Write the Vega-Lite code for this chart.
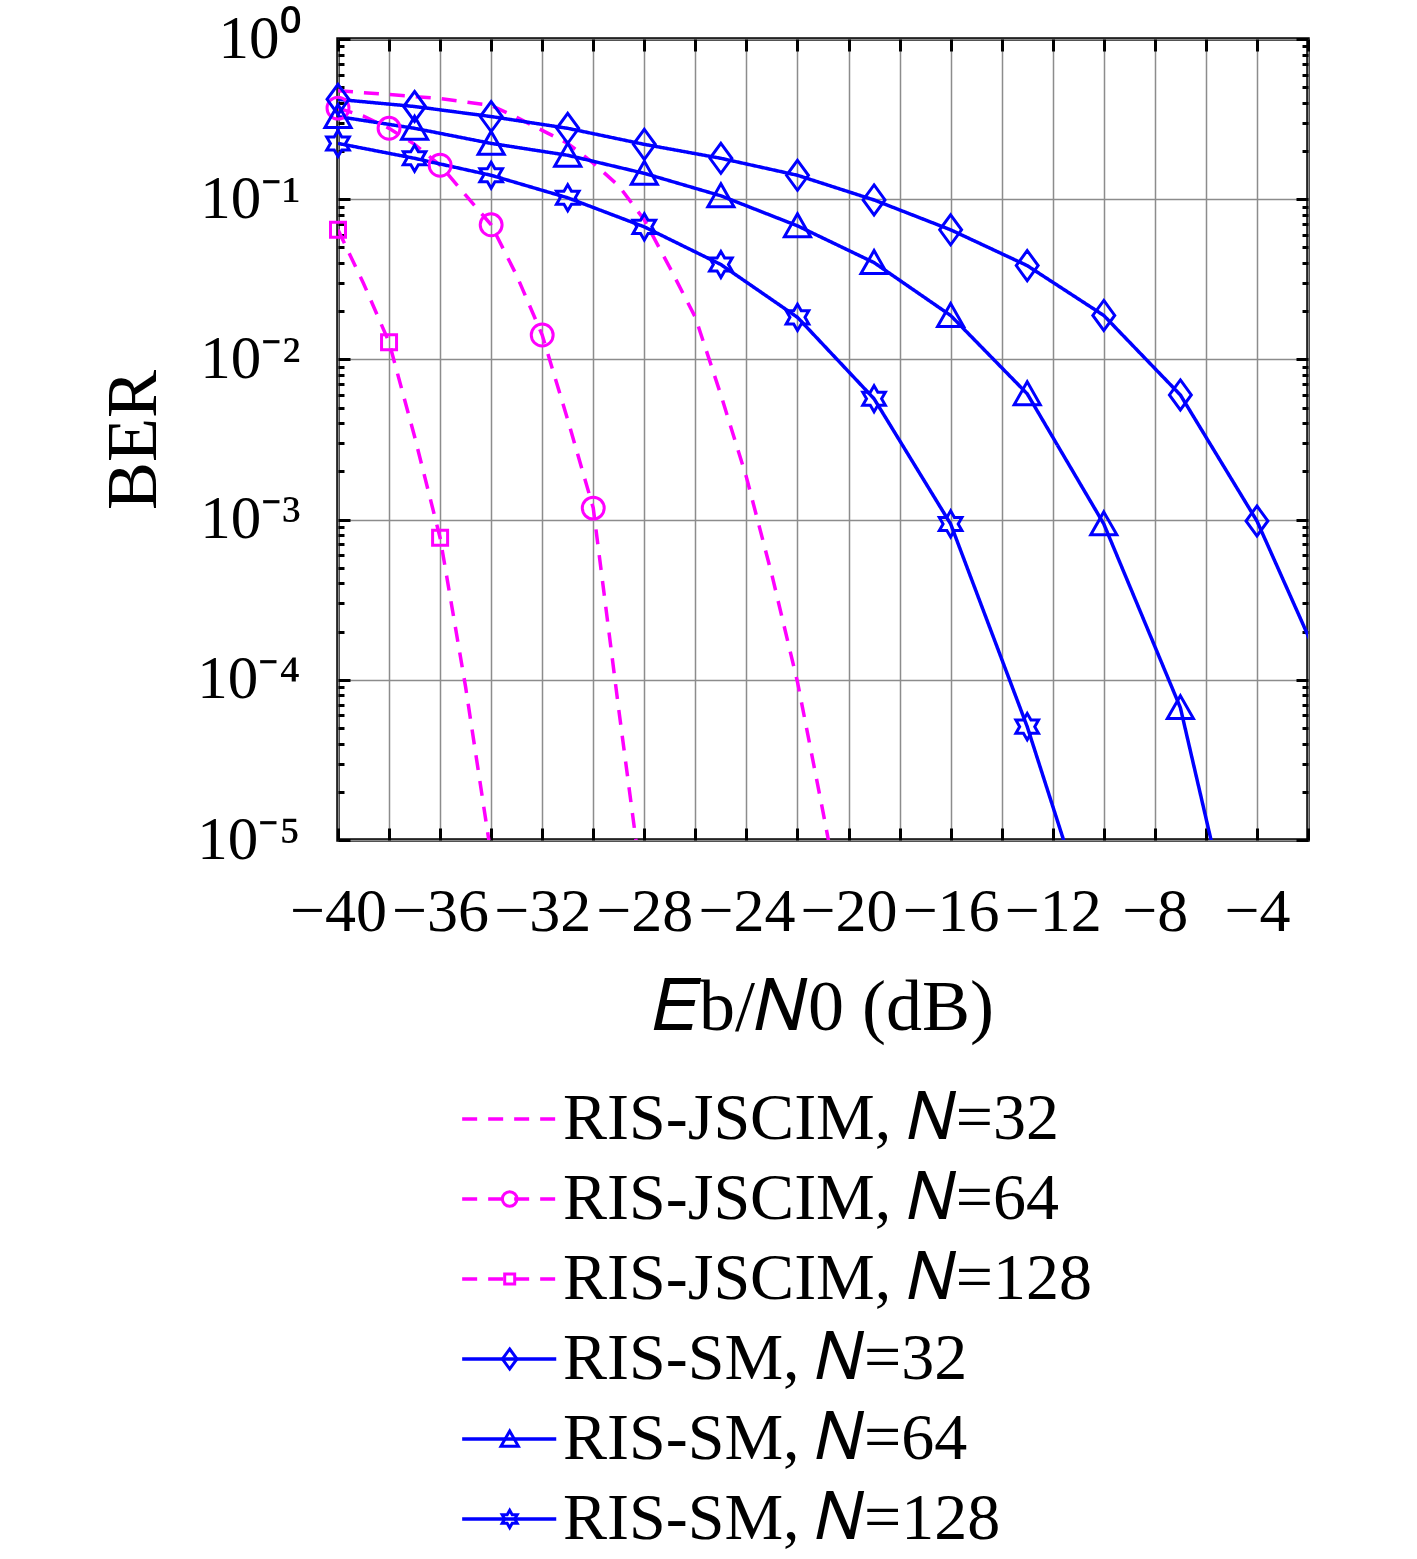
{
  "$schema": "https://vega.github.io/schema/vega-lite/v6.json",
  "background": "white",
  "padding": {"left": 95, "top": 6, "right": 0, "bottom": 0},
  "config": {
    "font": "Liberation Serif",
    "axis": {
      "labelFont": "Liberation Serif",
      "titleFont": "Liberation Serif",
      "labelColor": "black",
      "titleColor": "black",
      "titleFontWeight": "normal",
      "domain": false,
      "tickColor": "black",
      "tickWidth": 3,
      "gridColor": "#8c8c8c",
      "gridWidth": 1.5,
      "gridOpacity": 1,
      "labelOverlap": false,
      "labelFlush": false,
      "labelBound": false
    },
    "view": {"stroke": "black", "strokeWidth": 3.5}
  },
  "datasets": {
    "curves": [
      {"series": "RIS-JSCIM, 𝑁=32", "snr": -40, "ber": 0.476},
      {"series": "RIS-JSCIM, 𝑁=32", "snr": -38, "ber": 0.45},
      {"series": "RIS-JSCIM, 𝑁=32", "snr": -36, "ber": 0.425},
      {"series": "RIS-JSCIM, 𝑁=32", "snr": -34, "ber": 0.385},
      {"series": "RIS-JSCIM, 𝑁=32", "snr": -33, "ber": 0.324},
      {"series": "RIS-JSCIM, 𝑁=32", "snr": -32, "ber": 0.269},
      {"series": "RIS-JSCIM, 𝑁=32", "snr": -31, "ber": 0.223},
      {"series": "RIS-JSCIM, 𝑁=32", "snr": -30, "ber": 0.168},
      {"series": "RIS-JSCIM, 𝑁=32", "snr": -29, "ber": 0.121},
      {"series": "RIS-JSCIM, 𝑁=32", "snr": -28, "ber": 0.0743},
      {"series": "RIS-JSCIM, 𝑁=32", "snr": -27, "ber": 0.0374},
      {"series": "RIS-JSCIM, 𝑁=32", "snr": -26, "ber": 0.0183},
      {"series": "RIS-JSCIM, 𝑁=32", "snr": -25, "ber": 0.0060},
      {"series": "RIS-JSCIM, 𝑁=32", "snr": -24, "ber": 0.00184},
      {"series": "RIS-JSCIM, 𝑁=32", "snr": -23, "ber": 0.00045},
      {"series": "RIS-JSCIM, 𝑁=32", "snr": -22, "ber": 0.000097},
      {"series": "RIS-JSCIM, 𝑁=32", "snr": -21, "ber": 0.000015},
      {"series": "RIS-JSCIM, 𝑁=32", "snr": -20, "ber": 0.0000022},
      {"series": "RIS-JSCIM, 𝑁=64", "snr": -40, "ber": 0.37},
      {"series": "RIS-JSCIM, 𝑁=64", "snr": -39, "ber": 0.33},
      {"series": "RIS-JSCIM, 𝑁=64", "snr": -38, "ber": 0.277},
      {"series": "RIS-JSCIM, 𝑁=64", "snr": -37, "ber": 0.22},
      {"series": "RIS-JSCIM, 𝑁=64", "snr": -36, "ber": 0.163},
      {"series": "RIS-JSCIM, 𝑁=64", "snr": -35, "ber": 0.106},
      {"series": "RIS-JSCIM, 𝑁=64", "snr": -34, "ber": 0.0692},
      {"series": "RIS-JSCIM, 𝑁=64", "snr": -33, "ber": 0.0334},
      {"series": "RIS-JSCIM, 𝑁=64", "snr": -32, "ber": 0.0142},
      {"series": "RIS-JSCIM, 𝑁=64", "snr": -31, "ber": 0.0042},
      {"series": "RIS-JSCIM, 𝑁=64", "snr": -30, "ber": 0.00118},
      {"series": "RIS-JSCIM, 𝑁=64", "snr": -29, "ber": 0.000065},
      {"series": "RIS-JSCIM, 𝑁=64", "snr": -28, "ber": 0.000004},
      {"series": "RIS-JSCIM, 𝑁=128", "snr": -40, "ber": 0.0644},
      {"series": "RIS-JSCIM, 𝑁=128", "snr": -39, "ber": 0.0298},
      {"series": "RIS-JSCIM, 𝑁=128", "snr": -38, "ber": 0.0128},
      {"series": "RIS-JSCIM, 𝑁=128", "snr": -37, "ber": 0.0033},
      {"series": "RIS-JSCIM, 𝑁=128", "snr": -36, "ber": 0.00077},
      {"series": "RIS-JSCIM, 𝑁=128", "snr": -35, "ber": 0.00009},
      {"series": "RIS-JSCIM, 𝑁=128", "snr": -34, "ber": 0.000008},
      {"series": "RIS-SM, 𝑁=32", "snr": -40, "ber": 0.42},
      {"series": "RIS-SM, 𝑁=32", "snr": -37, "ber": 0.379},
      {"series": "RIS-SM, 𝑁=32", "snr": -34, "ber": 0.328},
      {"series": "RIS-SM, 𝑁=32", "snr": -31, "ber": 0.277},
      {"series": "RIS-SM, 𝑁=32", "snr": -28, "ber": 0.22},
      {"series": "RIS-SM, 𝑁=32", "snr": -25, "ber": 0.18},
      {"series": "RIS-SM, 𝑁=32", "snr": -22, "ber": 0.141},
      {"series": "RIS-SM, 𝑁=32", "snr": -19, "ber": 0.0989},
      {"series": "RIS-SM, 𝑁=32", "snr": -16, "ber": 0.0644},
      {"series": "RIS-SM, 𝑁=32", "snr": -13, "ber": 0.0385},
      {"series": "RIS-SM, 𝑁=32", "snr": -10, "ber": 0.0188},
      {"series": "RIS-SM, 𝑁=32", "snr": -7, "ber": 0.006},
      {"series": "RIS-SM, 𝑁=32", "snr": -4, "ber": 0.00098},
      {"series": "RIS-SM, 𝑁=32", "snr": -1, "ber": 0.000083},
      {"series": "RIS-SM, 𝑁=64", "snr": -40, "ber": 0.328},
      {"series": "RIS-SM, 𝑁=64", "snr": -37, "ber": 0.277},
      {"series": "RIS-SM, 𝑁=64", "snr": -34, "ber": 0.223},
      {"series": "RIS-SM, 𝑁=64", "snr": -31, "ber": 0.188},
      {"series": "RIS-SM, 𝑁=64", "snr": -28, "ber": 0.145},
      {"series": "RIS-SM, 𝑁=64", "snr": -25, "ber": 0.105},
      {"series": "RIS-SM, 𝑁=64", "snr": -22, "ber": 0.0682},
      {"series": "RIS-SM, 𝑁=64", "snr": -19, "ber": 0.0402},
      {"series": "RIS-SM, 𝑁=64", "snr": -16, "ber": 0.0188},
      {"series": "RIS-SM, 𝑁=64", "snr": -13, "ber": 0.0061},
      {"series": "RIS-SM, 𝑁=64", "snr": -10, "ber": 0.00094},
      {"series": "RIS-SM, 𝑁=64", "snr": -7, "ber": 0.000067},
      {"series": "RIS-SM, 𝑁=64", "snr": -4, "ber": 0.00000058},
      {"series": "RIS-SM, 𝑁=128", "snr": -40, "ber": 0.223},
      {"series": "RIS-SM, 𝑁=128", "snr": -37, "ber": 0.18},
      {"series": "RIS-SM, 𝑁=128", "snr": -34, "ber": 0.141},
      {"series": "RIS-SM, 𝑁=128", "snr": -31, "ber": 0.102},
      {"series": "RIS-SM, 𝑁=128", "snr": -28, "ber": 0.0672},
      {"series": "RIS-SM, 𝑁=128", "snr": -25, "ber": 0.0391},
      {"series": "RIS-SM, 𝑁=128", "snr": -22, "ber": 0.0183},
      {"series": "RIS-SM, 𝑁=128", "snr": -19, "ber": 0.00568},
      {"series": "RIS-SM, 𝑁=128", "snr": -16, "ber": 0.00094},
      {"series": "RIS-SM, 𝑁=128", "snr": -13, "ber": 0.000051},
      {"series": "RIS-SM, 𝑁=128", "snr": -10, "ber": 0.00000165}
    ],
    "entries": [
      {"series": "RIS-JSCIM, 𝑁=32"},
      {"series": "RIS-JSCIM, 𝑁=64"},
      {"series": "RIS-JSCIM, 𝑁=128"},
      {"series": "RIS-SM, 𝑁=32"},
      {"series": "RIS-SM, 𝑁=64"},
      {"series": "RIS-SM, 𝑁=128"}
    ]
  },
  "bounds": "flush",
  "spacing": 239,
  "vconcat": [
    {
      "width": 970,
      "height": 801,
      "data": {"name": "curves"},
      "layer": [
        {
          "mark": {"type": "line", "clip": true, "strokeWidth": 3.5},
          "encoding": {
            "x": {
              "field": "snr",
              "type": "quantitative",
              "scale": {"domain": [-40, -2], "nice": false, "zero": false},
              "axis": {
                "orient": "bottom",
                "values": [-40, -38, -36, -34, -32, -30, -28, -26, -24, -22, -20, -18, -16, -14, -12, -10, -8, -6, -4, -2],
                "labelExpr": "datum.value % 4 === 0 ? datum.label : ''",
                "grid": true,
                "tickSize": -12,
                "labelFontSize": 62,
                "labelPadding": 53,
                "title": "𝐸b/𝑁0 (dB)",
                "titleFontSize": 72,
                "titlePadding": 30
              }
            },
            "y": {
              "field": "ber",
              "type": "quantitative",
              "scale": {"type": "log", "domain": [0.00001, 1], "nice": false},
              "axis": {
                "orient": "left",
                "values": [0.00001, 0.00002, 0.00003, 0.00004, 0.00005, 0.00006, 0.00007, 0.00008, 0.00009, 0.0001, 0.0002, 0.0003, 0.0004, 0.0005, 0.0006, 0.0007, 0.0008, 0.0009, 0.001, 0.002, 0.003, 0.004, 0.005, 0.006, 0.007, 0.008, 0.009, 0.01, 0.02, 0.03, 0.04, 0.05, 0.06, 0.07, 0.08, 0.09, 0.1, 0.2, 0.3, 0.4, 0.5, 0.6, 0.7, 0.8, 0.9, 1],
                "labelExpr": "abs(log(datum.value) / LN10 - round(log(datum.value) / LN10)) > 0.001 ? '' : datum.value > 0.5 ? '10⁰' : datum.value > 0.05 ? '10⁻¹' : datum.value > 0.005 ? '10⁻²' : datum.value > 0.0005 ? '10⁻³' : datum.value > 0.00005 ? '10⁻⁴' : '10⁻⁵'",
                "grid": true,
                "gridOpacity": {"condition": {"test": "abs(log(datum.value) / LN10 - round(log(datum.value) / LN10)) < 0.001", "value": 1}, "value": 0},
                "tickSize": {"condition": {"test": "abs(log(datum.value) / LN10 - round(log(datum.value) / LN10)) < 0.001", "value": -12}, "value": -6},
                "labelFontSize": 61,
                "labelPadding": 50,
                "title": "BER",
                "titleFontSize": 72,
                "titlePadding": 26
              }
            },
            "color": {
              "field": "series",
              "type": "nominal",
              "scale": {
                "domain": ["RIS-JSCIM, 𝑁=32", "RIS-JSCIM, 𝑁=64", "RIS-JSCIM, 𝑁=128", "RIS-SM, 𝑁=32", "RIS-SM, 𝑁=64", "RIS-SM, 𝑁=128"],
                "range": ["#ff00ff", "#ff00ff", "#ff00ff", "#0000ff", "#0000ff", "#0000ff"]
              },
              "legend": null
            },
            "strokeDash": {
              "field": "series",
              "type": "nominal",
              "scale": {
                "domain": ["RIS-JSCIM, 𝑁=32", "RIS-JSCIM, 𝑁=64", "RIS-JSCIM, 𝑁=128", "RIS-SM, 𝑁=32", "RIS-SM, 𝑁=64", "RIS-SM, 𝑁=128"],
                "range": [[15, 11], [15, 11], [15, 11], [1, 0], [1, 0], [1, 0]]
              },
              "legend": null
            }
          }
        },
        {
          "transform": [
            {"filter": "datum.ber >= 0.00001 && datum.snr <= -2 && (indexof(datum.series, 'RIS-SM') === 0 || (indexof(datum.series, '=32') < 0 && datum.snr % 2 === 0))"}
          ],
          "mark": {"type": "point", "filled": false, "size": 900, "strokeWidth": 3, "opacity": 1},
          "encoding": {
            "x": {
              "field": "snr",
              "type": "quantitative",
              "axis": {
                "orient": "top",
                "values": [-40, -38, -36, -34, -32, -30, -28, -26, -24, -22, -20, -18, -16, -14, -12, -10, -8, -6, -4, -2],
                "labels": false,
                "grid": false,
                "tickSize": -12,
                "title": null
              }
            },
            "y": {
              "field": "ber",
              "type": "quantitative",
              "axis": {
                "orient": "right",
                "values": [0.00001, 0.00002, 0.00003, 0.00004, 0.00005, 0.00006, 0.00007, 0.00008, 0.00009, 0.0001, 0.0002, 0.0003, 0.0004, 0.0005, 0.0006, 0.0007, 0.0008, 0.0009, 0.001, 0.002, 0.003, 0.004, 0.005, 0.006, 0.007, 0.008, 0.009, 0.01, 0.02, 0.03, 0.04, 0.05, 0.06, 0.07, 0.08, 0.09, 0.1, 0.2, 0.3, 0.4, 0.5, 0.6, 0.7, 0.8, 0.9, 1],
                "labels": false,
                "grid": false,
                "tickSize": {"condition": {"test": "abs(log(datum.value) / LN10 - round(log(datum.value) / LN10)) < 0.001", "value": -12}, "value": -6},
                "title": null
              }
            },
            "color": {"field": "series", "type": "nominal", "legend": null},
            "shape": {
              "field": "series",
              "type": "nominal",
              "scale": {
                "domain": ["RIS-JSCIM, 𝑁=32", "RIS-JSCIM, 𝑁=64", "RIS-JSCIM, 𝑁=128", "RIS-SM, 𝑁=32", "RIS-SM, 𝑁=64", "RIS-SM, 𝑁=128"],
                "range": [
                  "M0,0",
                  "M0.73,0A0.73,0.73,0,1,1,-0.73,0A0.73,0.73,0,1,1,0.73,0Z",
                  "M-0.5,-0.5H0.5V0.5H-0.5Z",
                  "M0,-1L0.73,0L0,1L-0.73,0Z",
                  "M0,-0.8L0.87,0.73L-0.87,0.73Z",
                  "M0,-0.87L0.251,-0.435L0.753,-0.435L0.502,0L0.753,0.435L0.251,0.435L0,0.87L-0.251,0.435L-0.753,0.435L-0.502,0L-0.753,-0.435L-0.251,-0.435Z"
                ]
              },
              "legend": null
            }
          }
        }
      ]
    },
    {
      "width": 970,
      "height": 480,
      "view": {"stroke": null},
      "data": {"name": "entries"},
      "encoding": {
        "y": {
          "field": "series",
          "type": "nominal",
          "scale": {
            "type": "point",
            "padding": 0.5,
            "domain": ["RIS-JSCIM, 𝑁=32", "RIS-JSCIM, 𝑁=64", "RIS-JSCIM, 𝑁=128", "RIS-SM, 𝑁=32", "RIS-SM, 𝑁=64", "RIS-SM, 𝑁=128"]
          },
          "axis": null
        }
      },
      "layer": [
        {
          "mark": {"type": "rule", "strokeWidth": 3.5},
          "encoding": {
            "x": {"datum": 0.128, "type": "quantitative", "scale": {"domain": [0, 1], "nice": false}, "axis": null},
            "x2": {"datum": 0.225},
            "color": {"field": "series", "type": "nominal", "legend": null},
            "strokeDash": {"field": "series", "type": "nominal", "legend": null}
          }
        },
        {
          "mark": {"type": "point", "filled": false, "size": 400, "strokeWidth": 3, "opacity": 1},
          "encoding": {
            "x": {"datum": 0.177, "type": "quantitative"},
            "color": {"field": "series", "type": "nominal", "legend": null},
            "shape": {"field": "series", "type": "nominal", "legend": null}
          }
        },
        {
          "mark": {"type": "text", "align": "left", "baseline": "middle", "fontSize": 66, "font": "Liberation Serif", "color": "black"},
          "encoding": {
            "x": {"datum": 0.232, "type": "quantitative"},
            "text": {"field": "series"}
          }
        }
      ]
    }
  ]
}
